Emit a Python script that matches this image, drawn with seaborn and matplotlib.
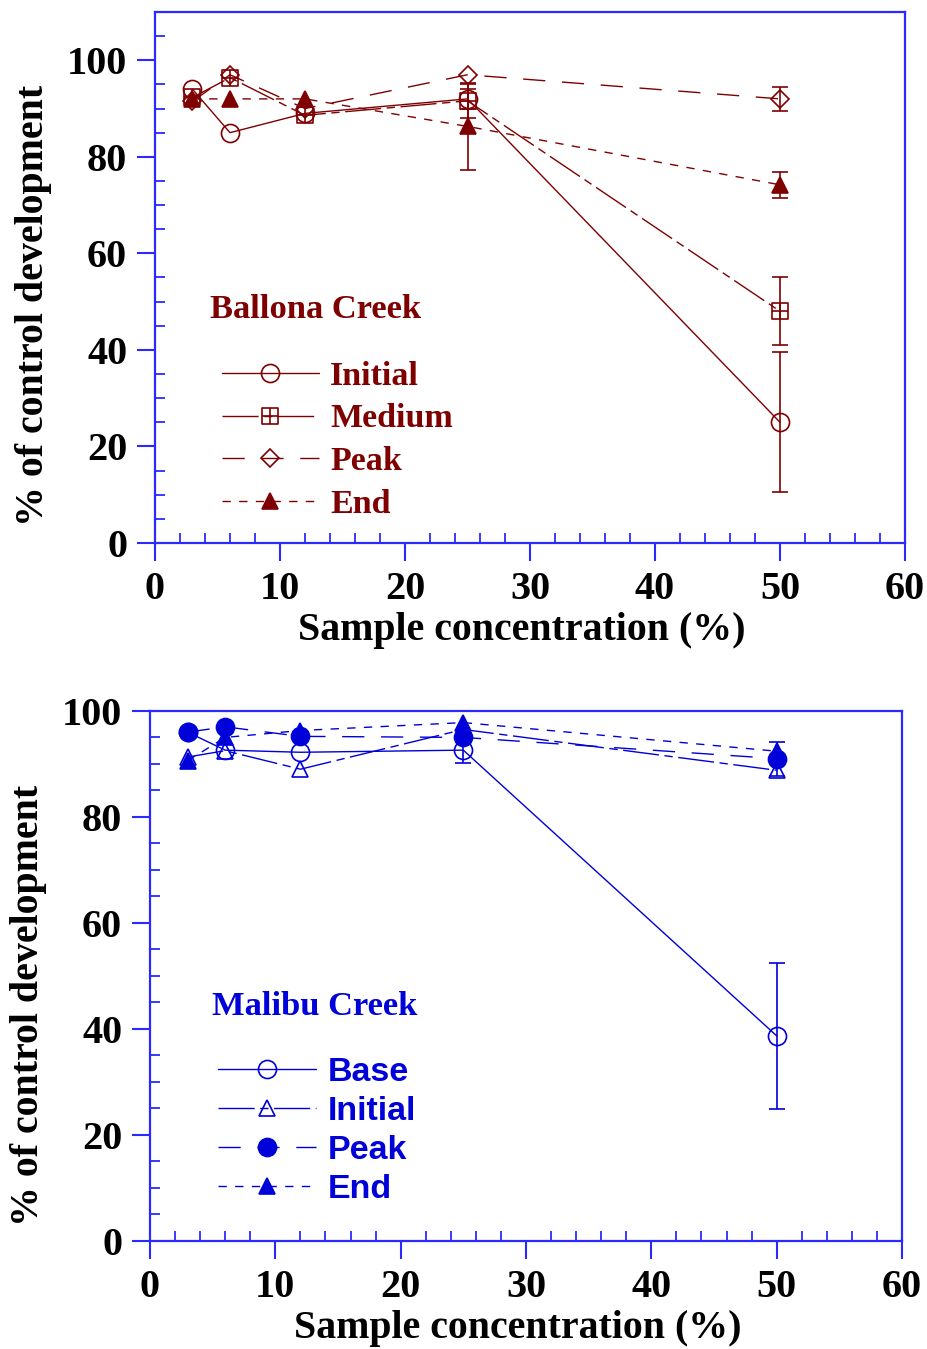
import numpy as np
import pandas as pd
import matplotlib
matplotlib.use("Agg")
import matplotlib.pyplot as plt
from matplotlib.path import Path
from matplotlib.lines import Line2D
from matplotlib.ticker import MultipleLocator
import seaborn as sns

# ---------------- data ----------------
conc = [3, 6, 12, 25, 50]

# Ballona Creek
bal_initial = [94, 85, 89, 92, 25]
bal_initial_err = [0, 0, 0, 2, 14.5]
bal_medium = [92.3, 96.4, 88.6, 91.6, 48]
bal_medium_err = [0, 0, 0, 3.5, 7]
bal_peak = [91.5, 97, 90, 97, 92]
bal_peak_err = [0, 0, 0, 0, 2.5]
bal_end = [92, 92, 92, 86.3, 74.2]
bal_end_err = [0, 0, 0, 9, 2.7]

# Malibu Creek
mal_base = [96, 92.6, 92.2, 92.6, 38.7]
mal_base_err = [0, 0, 0, 2.5, 13.8]
mal_initial = [91.3, 92.5, 89, 96.5, 88.8]
mal_initial_err = [0, 0, 0, 0, 0]
mal_peak = [96, 97, 95.2, 95, 91]
mal_peak_err = [0, 0, 0, 0, 3.2]
mal_end = [90.6, 95, 96.3, 97.8, 92.4]
mal_end_err = [0, 0, 0, 0, 0]

ballona_labels = ["Initial", "Medium", "Peak", "End"]
malibu_labels = ["Base", "Initial", "Peak", "End"]
xticks = [0, 10, 20, 30, 40, 50, 60]

# ---------------- style ----------------
sns.set_style("ticks")
plt.rcParams["font.family"] = ["Liberation Serif", "DejaVu Serif"]
plt.rcParams["text.color"] = "black"
plt.rcParams["axes.labelcolor"] = "black"
plt.rcParams["xtick.labelcolor"] = "black"
plt.rcParams["ytick.labelcolor"] = "black"

RED = "#7f0000"
BLUE = "#0000d8"
SPINE = "#2a2aff"

sq_plus = Path([(-1, -1), (1, -1), (1, 1), (-1, 1), (-1, -1),
                (0, -1), (0, 1), (-1, 0), (1, 0)],
               [Path.MOVETO, Path.LINETO, Path.LINETO, Path.LINETO, Path.CLOSEPOLY,
                Path.MOVETO, Path.LINETO, Path.MOVETO, Path.LINETO])

fig = plt.figure(figsize=(9.27, 13.49), dpi=100)
ax1 = fig.add_axes([0.1672, 0.5975, 0.8091, 0.3936])
ax2 = fig.add_axes([0.1618, 0.0801, 0.8112, 0.3929])


def draw(ax, vals, errs, color, marker, ms, mfc, ls, label):
    df = pd.DataFrame({"conc": conc, "val": vals})
    sns.lineplot(data=df, x="conc", y="val", ax=ax, color=color, marker=marker,
                 markersize=ms, markerfacecolor=mfc, markeredgecolor=color,
                 markeredgewidth=1.2, linestyle=ls, linewidth=1.0,
                 errorbar=None, legend=False, zorder=3)
    e = np.array(errs, dtype=float)
    m = e > 0
    ax.errorbar(np.array(conc)[m], np.array(vals)[m], yerr=e[m], fmt="none",
                ecolor=color, elinewidth=1.2, capsize=6, capthick=1.2, zorder=2)
    return Line2D([], [], color=color, marker=marker, markersize=ms,
                  markerfacecolor=mfc, markeredgecolor=color, markeredgewidth=1.2,
                  linestyle=ls, linewidth=1.0)


ls_solid = "-"
ls_dashdot = (0, (26, 4, 6, 4))
ls_long = (0, (16, 12))
ls_short = (0, (6, 6))

h1 = [
    draw(ax1, bal_initial, bal_initial_err, RED, "o", 13, "none", ls_solid, "Initial"),
    draw(ax1, bal_medium, bal_medium_err, RED, sq_plus, 11, "none", ls_dashdot, "Medium"),
    draw(ax1, bal_peak, bal_peak_err, RED, "D", 9, "none", ls_long, "Peak"),
    draw(ax1, bal_end, bal_end_err, RED, "^", 11, RED, ls_short, "End"),
]
h2 = [
    draw(ax2, mal_base, mal_base_err, BLUE, "o", 13, "none", ls_solid, "Base"),
    draw(ax2, mal_initial, mal_initial_err, BLUE, "^", 12, "none", ls_dashdot, "Initial"),
    draw(ax2, mal_peak, mal_peak_err, BLUE, "o", 13, BLUE, ls_long, "Peak"),
    draw(ax2, mal_end, mal_end_err, BLUE, "^", 11, BLUE, ls_short, "End"),
]


def style_axes(ax, ytop, ylab_y):
    ax.set_xlim(0, 60)
    ax.set_ylim(0, ytop)
    ax.set_xticks(xticks)
    ax.set_yticks([0, 20, 40, 60, 80, 100])
    ax.xaxis.set_minor_locator(MultipleLocator(2))
    ax.yaxis.set_minor_locator(MultipleLocator(5))
    ax.tick_params(which="major", direction="out", length=13, width=1.5,
                   color=SPINE, labelcolor="black", labelsize=29, pad=7)
    ax.tick_params(which="minor", direction="in", length=7, width=1.3, color=SPINE)
    ax.tick_params(top=False, right=False, which="both")
    for lab in ax.get_xticklabels() + ax.get_yticklabels():
        lab.set_fontweight("bold")
    for s in ax.spines.values():
        s.set_visible(True)
        s.set_color(SPINE)
        s.set_linewidth(1.6)
    ax.set_xlabel("Sample concentration (%)", fontsize=28.7, fontweight="bold",
                  labelpad=0, color="black")
    ax.set_ylabel("% of control development", fontsize=28.7, fontweight="bold",
                  labelpad=11, color="black")
    ax.xaxis.set_label_coords(0.489, -0.13)
    ax.yaxis.label.set_y(ylab_y)
    ax.set_facecolor("white")


style_axes(ax1, 110, 0.448)
style_axes(ax2, 100, 0.445)

ax1.text(0.073, 0.44, "Ballona Creek", transform=ax1.transAxes, color=RED,
         fontsize=24.8, fontweight="bold", va="center", ha="left")
ax2.text(0.082, 0.443, "Malibu Creek", transform=ax2.transAxes, color=BLUE,
         fontsize=24.8, fontweight="bold", va="center", ha="left")

leg1 = ax1.legend(h1, ballona_labels, loc="upper left", bbox_to_anchor=(0.089, 0.343),
                  frameon=False, borderpad=0, borderaxespad=0, handlelength=2.85,
                  handletextpad=0.33, labelspacing=0.34, numpoints=1,
                  prop={"family": ["Liberation Serif"], "weight": "bold", "size": 24.5})
for t in leg1.get_texts():
    t.set_color(RED)

leg2 = ax2.legend(h2, malibu_labels, loc="upper left", bbox_to_anchor=(0.09, 0.347),
                  frameon=False, borderpad=0, borderaxespad=0, handlelength=2.9,
                  handletextpad=0.33, labelspacing=0.23, numpoints=1,
                  prop={"family": ["Liberation Sans"], "weight": "bold", "size": 24.5})
for t in leg2.get_texts():
    t.set_color(BLUE)

fig.savefig("out.png", dpi=100, facecolor="white")
